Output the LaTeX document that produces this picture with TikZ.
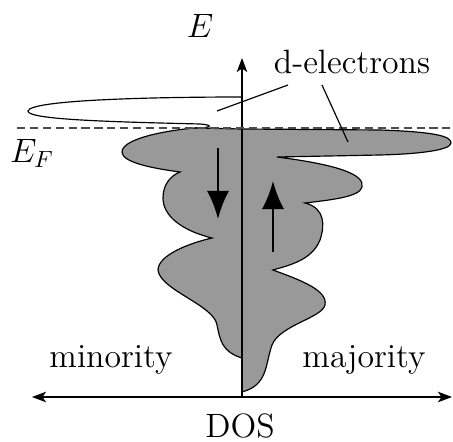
\documentclass[tikz,border=0pt]{standalone}
\usetikzlibrary{arrows.meta}

\begin{document}
\begin{tikzpicture}[
  x=0.015cm, y=-0.015cm,
  >={Stealth[length=6pt,width=4.5pt,inset=1.5pt]},
  outline/.style={draw=black, line width=0.5pt},
  axisline/.style={draw=black, line width=0.5pt},
  fermi/.style={draw=black!70, line width=0.6pt, dash pattern=on 3.5pt off 2pt},
  spin/.style={-{Latex[length=12pt,width=9.5pt]}, draw=black, line width=1.1pt},
  leader/.style={draw=black, line width=0.5pt},
  lbl/.style={font=\Large, anchor=base, inner sep=0pt}
]
\useasboundingbox (0,0) rectangle (453,442);

% filled d-bands
\path[outline, fill=black!40]
  (242,129) -- (380,130) .. controls (440,132) and (451,137) .. (451,143)
  .. controls (451,150) and (420,154) .. (380,155) -- (277,157)
  .. controls (340,165) and (365,175) .. (362,187)
  .. controls (360,197) and (330,200) .. (305,203)
  .. controls (325,208) and (325,225) .. (320,240)
  .. controls (312,260) and (290,265) .. (273,270)
  .. controls (300,280) and (328,290) .. (325,305)
  .. controls (322,318) and (280,325) .. (272,345)
  .. controls (265,365) and (268,385) .. (242,392)
  -- (242,358)
  .. controls (222,352) and (220,340) .. (217,325)
  .. controls (214,305) and (160,290) .. (158,270)
  .. controls (158,255) and (190,243) .. (212,238)
  .. controls (180,230) and (163,215) .. (163,198)
  .. controls (163,185) and (170,176) .. (180,172)
  .. controls (150,168) and (122,162) .. (122,152)
  .. controls (122,138) and (170,130) .. (195,128) -- cycle;

% empty minority band above E_F
\draw[outline] (242,97) .. controls (150,97) and (30,100) .. (28,111)
  .. controls (27,120) and (120,122) .. (200,124)
  .. controls (214,125) and (212,128) .. (195,128);

% axes
\coordinate (origin) at (242,397);
\coordinate (Etop) at (242,58);
\coordinate (dosleft) at (32,397);
\coordinate (dosright) at (452,397);
\draw[axisline, ->] (origin) -- (Etop);
\draw[axisline, <->] (dosleft) -- (dosright);

% Fermi level
\coordinate (fermileft) at (17,128);
\coordinate (fermiright) at (453,128);
\draw[fermi] (fermileft) -- (fermiright);

% spins
\coordinate (dntop) at (218,148);
\coordinate (dnbot) at (218,219);
\coordinate (upbot) at (273,252);
\coordinate (uptop) at (273,181);
\draw[spin] (dntop) -- (dnbot);
\draw[spin] (upbot) -- (uptop);

% labels
\node[lbl] (Elabel) at (200,37) {$E$};
\node[lbl] (EFlabel) at (32,162) {$E_F$};
\node[lbl] (delec) at (352,73) {d-electrons};
\node[lbl] (minlabel) at (111,368) {minority};
\node[lbl] (majlabel) at (364,368) {majority};
\node[lbl] (doslabel) at (240,438) {DOS};

\coordinate (leadmin) at (288,85);
\coordinate (leadmaj) at (322,85);
\coordinate (minband) at (217,111);
\coordinate (majband) at (348,142);
\draw[leader] (leadmin) -- (minband);
\draw[leader] (leadmaj) -- (majband);

\end{tikzpicture}
\end{document}
